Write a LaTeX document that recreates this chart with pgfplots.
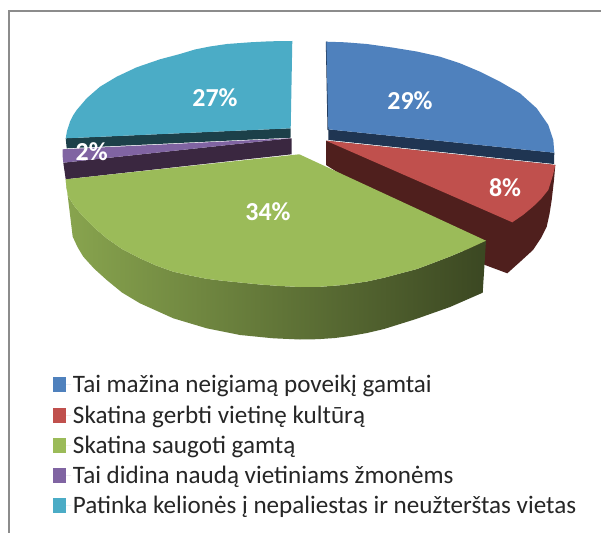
\documentclass[border=0pt]{standalone}
\usepackage{pgfplots}
\pgfplotsset{compat=1.18}
\usepackage{fontspec}
\setmainfont{Carlito}
\definecolor{cblue}{HTML}{4F81BD}
\definecolor{cred}{HTML}{C0504D}
\definecolor{cgreen}{HTML}{9BBB59}
\definecolor{cpurple}{HTML}{8064A2}
\definecolor{cteal}{HTML}{4BACC6}
\definecolor{dblue}{HTML}{1F3552}
\definecolor{dred}{HTML}{4F1F1D}
\definecolor{dpurple}{HTML}{3A2740}
\definecolor{dteal}{HTML}{1C4049}
\tikzset{lbl/.style={text=white, font=\fontsize{26}{28}\selectfont\bfseries}}
\begin{document}
\begin{tikzpicture}
\begin{axis}[
  scale only axis, width=601bp, height=533bp,
  xmin=0, xmax=601, ymin=0, ymax=533, y dir=reverse,
  hide axis,
  legend cell align=left,
  legend style={draw=none, fill=none, at={(axis cs:53,373.5)}, anchor=north west,
    inner sep=0pt, outer sep=0pt, font=\fontsize{25.2}{28}\selectfont\color[HTML]{262626},
    row sep=7.2bp},
  legend image code/.code={\fill[#1,draw=none] (0bp,-7.5bp) rectangle (13bp,7.5bp);\path (0bp,0bp) -- (18bp,0bp);},
]
\addplot[fill=white, draw=none, forget plot] coordinates {(0,0)(601,0)(601,533)(0,533)};
\addplot[draw=black!45, line width=2.7bp, forget plot] coordinates {(9,533)(9,11)(601,11)};
% sides
\addplot[fill=dred, draw=none, forget plot] coordinates {
(326,140.7)(555.3,165)(554,180)(551.7,200)(549.5,214)(546.7,226.7)(541,238)(533,250)(521,261)(507.3,273.3)(485,265)(326,165)};
\addplot[fill=dblue, draw=none, forget plot] coordinates {(328.3,129.3)(554.3,152.7)(554,164)(328.3,140)};
\addplot[fill=dblue, draw=none, forget plot] coordinates {(325.8,41.7)(327,41.7)(329,130)(327.5,130)};
\addplot[fill=dteal, draw=none, forget plot] coordinates {(65.7,138.3)(290.7,128.3)(290.7,137.7)(66.7,148.3)};
\addplot[fill=dpurple, draw=none, forget plot] coordinates {(63.3,162.7)(290,138.3)(291.7,138.3)(291.7,154.3)(65.7,179.3)};
\addplot[left color=cgreen!88!black, middle color=cgreen!50!black, right color=cgreen!38!black, draw=none, forget plot] coordinates {
(65.7,179.3)(66.5,188)(68.3,196.7)(75,207)(83.3,216.7)(94,227.5)(106.7,238.3)(122,249)(140,258.3)(156,265.5)(173.3,271.7)(190,275.5)(206.7,278.8)(223,280.8)(240,282.5)(260,284.5)(280,286)(300,287)(320,286.8)(343,285)(367,281.5)(385,277.5)(400,273.5)(417,269)(433,263)(450,256.5)(468,249)(486,240.7)
(482.7,292.7)(466,300)(450,307)(433,313)(416,319)(400,324)(384,329)(367,333)(350,336)(335,338)(318,339.2)(300,339.5)(273.3,338.3)(240,335)(206.7,328.3)(173.3,318.3)(140,303.3)(122,292.5)(106.7,280)(94,268.5)(83.3,256.7)(77.5,247)(72.7,236.7)};
% tops
\addplot[fill=cblue, draw=none] coordinates {
(328.3,129.3)(326.3,41.7)(345,42.3)(366.7,44)(392,47.5)(416.7,51.5)(440,56.7)(460,63.3)(480,71.7)(500,81.7)(520,93.3)(536.7,108.3)(548.3,125)(553.3,140)(554.3,152.7)};
\addlegendentry{Tai mažina neigiamą poveikį gamtai}
\addplot[fill=cred, draw=none] coordinates {
(326,140.7)(555.3,165)(553,175)(548.3,190)(541,199)(533,206.7)(523,215)(512.3,222.3)};
\addlegendentry{Skatina gerbti vietinę kultūrą}
\addplot[fill=cgreen, draw=none] coordinates {
(299.3,154.3)(65.7,179.3)(66.5,188)(68.3,196.7)(75,207)(83.3,216.7)(94,227.5)(106.7,238.3)(122,249)(140,258.3)(156,265.5)(173.3,271.7)(190,275.5)(206.7,278.8)(223,280.8)(240,282.5)(260,284.5)(280,286)(300,287)(320,286.8)(343,285)(367,281.5)(385,277.5)(400,273.5)(417,269)(433,263)(450,256.5)(468,249)(486,240.7)};
\addlegendentry{Skatina saugoti gamtą}
\addplot[fill=cpurple, draw=none] coordinates {(62.7,149.3)(290,138.3)(63.3,162.7)(62.6,156)};
\addlegendentry{Tai didina naudą vietiniams žmonėms}
\addplot[fill=cteal, draw=none] coordinates {
(290.7,128.3)(65.7,138.3)(67,131)(70,121.7)(73,115.5)(76.7,110)(86.7,98.3)(100,86.7)(116.7,76.7)(136.7,67.3)(160,59.3)(180,54)(195,49.5)(210,46.5)(227,44)(250,42.3)(270,41.3)(292.3,41)};
\addlegendentry{Patinka kelionės į nepaliestas ir neužterštas vietas}
\node[lbl] at (axis cs:410,101) {29\%};
\node[lbl] at (axis cs:505,187.7) {8\%};
\node[lbl] at (axis cs:268,211.7) {34\%};
\node[lbl] at (axis cs:91.7,151.7) {2\%};
\node[lbl] at (axis cs:215,97.3) {27\%};
\end{axis}
\end{tikzpicture}
\end{document}
